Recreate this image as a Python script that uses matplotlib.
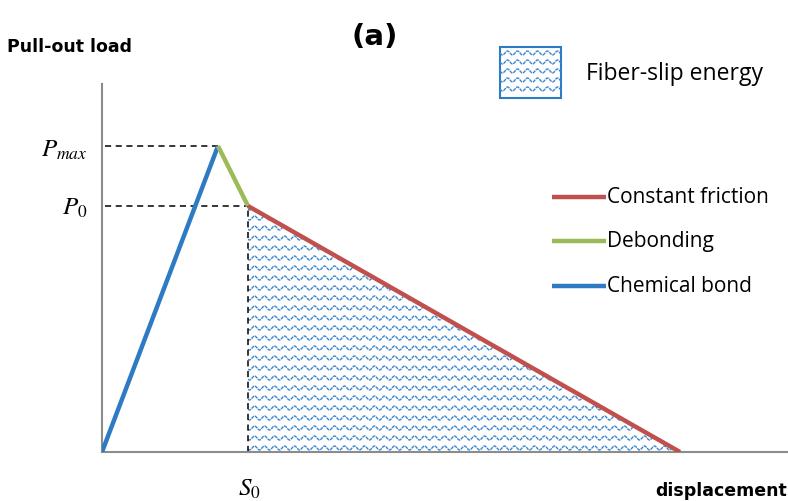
import numpy as np
import matplotlib
matplotlib.use("Agg")
import matplotlib.pyplot as plt
from matplotlib.patches import Polygon, Rectangle
from matplotlib.lines import Line2D

plt.rcParams["mathtext.fontset"] = "stix"

# ---- data (arbitrary units) ----
displacement = [0, 116, 146, 578]   # origin, peak, S0, end
load = [0, 306, 246, 0]             # 0, Pmax, P0, 0
segment_names = ["Chemical bond", "Debonding", "Constant friction"]
segment_colors = ["#2e7bc4", "#9bbb59", "#c0504d"]

W, H = 788, 502
fig = plt.figure(figsize=(W / 100, H / 100), dpi=100)

def fx(x):
    return x / W

def fy(y):
    return 1 - y / H

ax = fig.add_axes([fx(102), fy(453), 686 / W, 368 / H])
ax.set_xlim(0, 686)
ax.set_ylim(0, 368)
for s in ["top", "right"]:
    ax.spines[s].set_visible(False)
for s in ["left", "bottom"]:
    ax.spines[s].set_color("#8c8c8c")
    ax.spines[s].set_linewidth(1.5)
ax.set_xticks([])
ax.set_yticks([])

x0, xp, xs, xe = displacement
y0, yp, ys, ye = load

WAVE_COL = "#3a86cf"
PERIOD = 10.0
AMP = 2.0
SPACING = 10.0

# fiber-slip energy region with wavy texture
region = Polygon([[xs, 0], [xs, ys], [xe, 0]], closed=True,
                 facecolor="none", edgecolor="none")
ax.add_patch(region)
wx = np.linspace(xs, xe, 3000)
for lvl in np.arange(4, ys + 6, SPACING):
    ln, = ax.plot(wx, lvl + AMP * np.sin(2 * np.pi * wx / PERIOD),
                  color=WAVE_COL, lw=1.0, ls=(0, (2.5, 0.6)))
    ln.set_clip_path(region)

# dashed guides
dash = (0, (4, 3))
ax.plot([3, xp], [yp, yp], color="black", lw=1.1, ls=dash)
ax.plot([3, xs], [ys, ys], color="black", lw=1.1, ls=dash)
ax.plot([xs, xs], [0, ys], color="black", lw=1.1, ls=dash)

# curve segments
for i in range(3):
    ax.plot(displacement[i:i + 2], load[i:i + 2], color=segment_colors[i],
            lw=3.2, solid_capstyle="butt", zorder=5)

# axis labels
fig.text(fx(7), fy(47), "Pull-out load", fontsize=12.5, fontweight="bold",
         family="DejaVu Sans", va="center", ha="left")
fig.text(fx(787), fy(491), "displacement", fontsize=12.5, fontweight="bold",
         family="DejaVu Sans", va="center", ha="right")
fig.text(fx(375), fy(37), "(a)", fontsize=21, fontweight="bold",
         family="DejaVu Sans", va="center", ha="center")

# tick-like labels
fig.text(fx(88), fy(150), r"$P_{max}$", fontsize=18, va="center", ha="right")
fig.text(fx(88), fy(208), r"$P_0$", fontsize=18, va="center", ha="right")
fig.text(fx(249), fy(489), r"$S_0$", fontsize=18, va="center", ha="center")

# legend: fiber-slip energy box
bx0, by0, bx1, by1 = 500, 48, 561, 99
box = Rectangle((fx(bx0), fy(by1)), fx(bx1) - fx(bx0), fy(by0) - fy(by1),
                transform=fig.transFigure, facecolor="white",
                edgecolor="#2e7bc4", lw=1.5)
fig.add_artist(box)
bxs = np.linspace(bx0, bx1, 500)
for yy in np.arange(by0 + 6, by1 - 2, 9.0):
    l = Line2D(fx(bxs), fy(yy + AMP * np.sin(2 * np.pi * bxs / PERIOD)),
               transform=fig.transFigure, color=WAVE_COL, lw=1.0,
               ls=(0, (2.5, 0.6)))
    l.set_clip_path(box)
    fig.add_artist(l)
fig.text(fx(586), fy(74), "Fiber-slip energy", fontsize=16.5,
         family="Open Sans", va="center", ha="left")

# legend: line entries
leg_y = [287, 242, 198]
for name, col, yy in zip(segment_names, segment_colors, leg_y):
    fig.add_artist(Line2D([fx(552), fx(606)], [fy(yy), fy(yy)],
                          transform=fig.transFigure, color=col, lw=3.2,
                          solid_capstyle="butt"))
    fig.text(fx(607), fy(yy), name, fontsize=15, family="Open Sans",
             va="center", ha="left")

fig.savefig("out.png", dpi=100)
